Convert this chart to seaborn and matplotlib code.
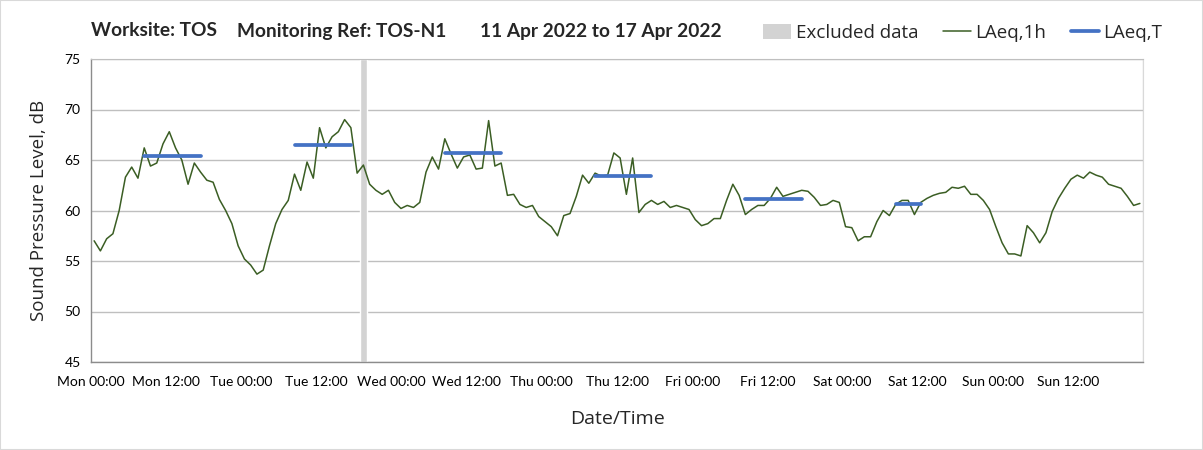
import numpy as np
import pandas as pd
import matplotlib
matplotlib.use("Agg")
import matplotlib.pyplot as plt
import seaborn as sns
from matplotlib.patches import Patch, Rectangle
from matplotlib.lines import Line2D
from matplotlib.ticker import MultipleLocator

# hourly LAeq,1h values, Mon 11 Apr 00:00 .. Sun 17 Apr 23:00
mon = [57.0, 56.0, 57.2, 57.7, 60.0, 63.3, 64.3, 63.2, 66.2, 64.4, 64.7, 66.6,
       67.8, 66.2, 65.0, 62.6, 64.7, 63.8, 63.0, 62.8, 61.1, 60.0, 58.7, 56.5]
tue = [55.2, 54.6, 53.7, 54.1, 56.5, 58.7, 60.1, 61.0, 63.6, 62.0, 64.8, 63.2,
       68.2, 66.2, 67.3, 67.8, 69.0, 68.2, 63.7, 64.5, 62.6, 62.0, 61.6, 62.0]
wed = [60.8, 60.2, 60.5, 60.3, 60.8, 63.8, 65.3, 64.1, 67.1, 65.6, 64.2, 65.3,
       65.5, 64.1, 64.2, 68.9, 64.4, 64.7, 61.5, 61.6, 60.6, 60.3, 60.5, 59.4]
thu = [58.9, 58.4, 57.5, 59.5, 59.7, 61.4, 63.5, 62.7, 63.7, 63.4, 63.5, 65.7,
       65.2, 61.6, 65.2, 59.8, 60.6, 61.0, 60.6, 60.9, 60.3, 60.5, 60.3, 60.1]
fri = [59.1, 58.5, 58.7, 59.2, 59.2, 61.0, 62.6, 61.5, 59.6, 60.1, 60.5, 60.5,
       61.2, 62.3, 61.4, 61.6, 61.8, 62.0, 61.9, 61.3, 60.5, 60.6, 61.0, 60.8]
sat = [58.4, 58.3, 57.0, 57.4, 57.4, 58.9, 60.0, 59.5, 60.6, 61.0, 61.0, 59.6,
       60.8, 61.2, 61.5, 61.7, 61.8, 62.3, 62.2, 62.4, 61.6, 61.6, 61.0, 60.1]
sun = [58.4, 56.8, 55.7, 55.7, 55.5, 58.5, 57.8, 56.8, 57.8, 59.9, 61.2, 62.2,
       63.1, 63.5, 63.2, 63.8, 63.5, 63.3, 62.6, 62.4, 62.2, 61.4, 60.5, 60.7]

day_names = ["Mon", "Tue", "Wed", "Thu", "Fri", "Sat", "Sun"]

# LAeq,T periods (first and last hour index of each period) and levels
period_first = [8, 32, 56, 80, 104, 128]
period_last = [17, 41, 65, 89, 113, 132]
laeq_t = [65.4, 66.5, 65.7, 63.4, 61.1, 60.6]

excluded_hours = [43]

laeq_1h = mon + tue + wed + thu + fri + sat + sun
hours = np.arange(len(laeq_1h)) + 0.5
df = pd.DataFrame({"hour": hours, "level": laeq_1h})

rows = []
for p, (a, b, v) in enumerate(zip(period_first, period_last, laeq_t)):
    for h in range(a, b + 1):
        rows.append({"hour": h + 0.5, "level": v, "period": p})
df_t = pd.DataFrame(rows)

sns.set_style("white")
plt.rcParams["font.family"] = ["Lato", "DejaVu Sans"]
sans = ["Open Sans", "DejaVu Sans"]

green = "#3b5e24"
blue = "#4472c4"
grey = "#d3d3d3"

fig = plt.figure(figsize=(12.03, 4.5), dpi=100)
ax = fig.add_axes([91 / 1203, 1 - 362 / 450, (1143 - 91) / 1203, (362 - 59) / 450])

for h in excluded_hours:
    ax.bar(h + 0.5, 30, bottom=45, width=1.0, color=grey, zorder=1)

sns.lineplot(data=df, x="hour", y="level", color=green, lw=1.1, ax=ax, zorder=3)
sns.lineplot(data=df_t, x="hour", y="level", units="period", estimator=None,
             color=blue, lw=2.7, ax=ax, zorder=4)

ax.set_xlim(0, 168)
ax.set_ylim(45, 75)
ax.set_xticks(np.arange(0, 168, 12))
ax.set_xticklabels([f"{d} {t}" for d in day_names for t in ("00:00", "12:00")])
ax.xaxis.set_minor_locator(MultipleLocator(24))
ax.set_yticks(np.arange(45, 76, 5))
ax.grid(axis="y", which="major", color="#bfbfbf", lw=1)
ax.grid(axis="x", which="minor", color="#d9d9d9", lw=1)
ax.set_axisbelow(True)

for s in ["left", "bottom"]:
    ax.spines[s].set_color("#8c8c8c")
    ax.spines[s].set_linewidth(1)
ax.spines["top"].set_color("#bfbfbf")
ax.spines["right"].set_color("#d9d9d9")
ax.tick_params(axis="both", which="major", length=4, color="#8c8c8c",
               labelsize=10, labelcolor="#000000")
ax.tick_params(axis="x", which="minor", length=0)
ax.tick_params(axis="x", pad=6)

ax.set_xlabel("Date/Time", fontsize=14, family=sans, labelpad=16)
ax.set_ylabel("Sound Pressure Level, dB", fontsize=13.5, family=sans, labelpad=12)

title_kw = dict(fontsize=13.8, fontweight="bold", va="center", ha="left")
fig.text(91 / 1203, 1 - 31 / 450, "Worksite: TOS", **title_kw)
fig.text(237 / 1203, 1 - 31 / 450, "Monitoring Ref: TOS-N1", **title_kw)
fig.text(480 / 1203, 1 - 31 / 450, "11 Apr 2022 to 17 Apr 2022", **title_kw)

handles = [Patch(facecolor=grey, edgecolor="none"),
           Line2D([], [], color=green, lw=1.1),
           Line2D([], [], color=blue, lw=2.7)]
fig.legend(handles, ["Excluded data", "LAeq,1h", "LAeq,T"], loc="center left",
           bbox_to_anchor=(746 / 1203, 1 - 33 / 450), ncol=3, frameon=False,
           prop={"family": sans, "size": 13.5},
           handlelength=1.5, handleheight=0.8, handletextpad=0.25, columnspacing=1.3)

fig.patches.append(Rectangle((0, 0), 1, 1, transform=fig.transFigure, fill=False,
                             edgecolor="#d9d9d9", lw=1.5))

fig.savefig("out.png", dpi=100)
